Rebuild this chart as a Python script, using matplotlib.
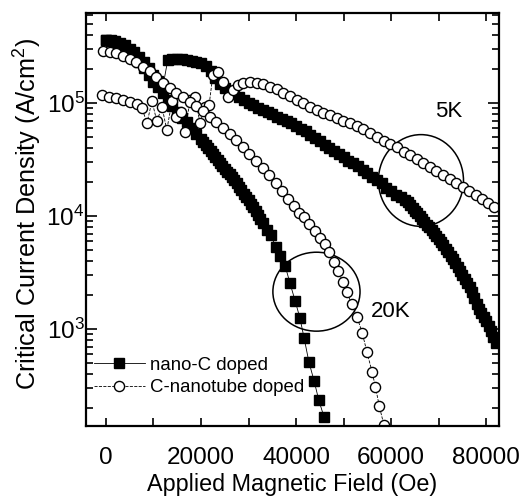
import matplotlib
matplotlib.use("Agg")
import matplotlib.pyplot as plt
from matplotlib.patches import Ellipse
from matplotlib.ticker import MultipleLocator, LogLocator, NullFormatter

plt.rcParams["font.family"] = ["Liberation Sans", "DejaVu Sans"]
plt.rcParams["mathtext.fontset"] = "custom"
plt.rcParams["mathtext.rm"] = "Liberation Sans"
plt.rcParams["mathtext.it"] = "Liberation Sans:italic"

# nano-C doped, 5 K (filled squares)
field_nanoC_5K = list(range(0, 63000, 1000)) + [
    63000, 63500, 64000, 64500, 65000, 65500, 66000, 66500, 67000, 67500, 68000, 68500,
    69000, 69500, 70000, 70500, 71000, 71500, 72000, 72500, 73000, 73500, 74000, 74500,
    75000, 75500, 76000, 76500, 77000, 77500, 78000, 78500, 79000, 79500, 80000, 80500,
    81000, 81500, 82000]
jc_nanoC_5K = [3.63e5, 3.63e5, 3.55e5, 3.39e5, 3.24e5, 3.02e5, 2.82e5, 2.57e5, 2.29e5, 2.04e5,
               1.78e5, 1.58e5, 1.41e5, 2.40e5, 2.45e5, 2.45e5, 2.45e5, 2.40e5, 2.34e5, 2.29e5,
               2.24e5, 2.14e5, 1.91e5, 1.66e5, 1.48e5, 1.35e5, 1.26e5, 1.20e5, 1.12e5, 1.07e5,
               1.00e5, 9.55e4, 9.12e4, 8.71e4, 8.32e4, 7.94e4, 7.59e4, 7.24e4, 6.92e4, 6.61e4,
               6.31e4, 5.89e4, 5.62e4, 5.25e4, 4.90e4, 4.57e4, 4.27e4, 3.98e4, 3.80e4, 3.55e4,
               3.31e4, 3.09e4, 2.95e4, 2.75e4, 2.57e4, 2.40e4, 2.24e4, 2.09e4, 1.95e4, 1.78e4,
               1.66e4, 1.55e4, 1.48e4,
               1.38e4, 1.32e4, 1.26e4, 1.19e4, 1.12e4, 1.06e4, 1.00e4, 9.44e3, 8.91e3, 8.41e3,
               7.94e3, 7.50e3, 7.08e3, 6.68e3, 6.31e3, 5.89e3, 5.50e3, 5.13e3, 4.79e3, 4.47e3,
               4.17e3, 3.85e3, 3.55e3, 3.27e3, 3.02e3, 2.79e3, 2.57e3, 2.35e3, 2.14e3, 1.90e3,
               1.66e3, 1.51e3, 1.38e3, 1.27e3, 1.17e3, 1.06e3, 955, 850, 759]

# nano-C doped, 20 K (filled squares)
field_nanoC_20K = [0, 1000, 2000, 3000, 4000, 5000, 6000, 7000, 8000, 9000, 10000, 11000,
                   12000, 13000, 14000, 15000, 16000, 17000, 18000, 19000, 20000, 20500,
                   21000, 21500, 22000, 22500, 23000, 23500, 24000, 24500, 25000, 25500,
                   26000, 26500, 27000, 27500, 28000, 28500, 29000, 29500, 30000, 30500,
                   31000, 31500, 32000, 32500, 33000, 33900, 34700, 35700, 36700, 37700,
                   38700, 39800, 40800, 41700, 42700, 43800, 44800, 45900]
jc_nanoC_20K = [3.61e5, 3.55e5, 3.39e5, 3.24e5, 3.02e5, 2.82e5, 2.57e5, 2.29e5, 2.04e5, 1.78e5,
                1.55e5, 1.38e5, 1.23e5, 1.07e5, 9.33e4, 8.32e4, 7.41e4, 6.76e4, 6.03e4, 5.37e4,
                4.79e4, 4.52e4, 4.27e4, 4.03e4, 3.80e4, 3.55e4, 3.31e4, 3.12e4, 2.95e4, 2.78e4,
                2.63e4, 2.48e4, 2.34e4, 2.21e4, 2.09e4, 1.95e4, 1.82e4, 1.70e4, 1.58e4, 1.48e4,
                1.38e4, 1.29e4, 1.20e4, 1.11e4, 1.02e4, 9.40e3, 8.71e3, 7.60e3, 6.76e3, 5.37e3,
                4.47e3, 3.63e3, 2.57e3, 1.78e3, 1.26e3, 832, 513, 347, 234, 166]

# C-nanotube doped, 5 K (open circles)
field_cnt_5K = [-840, 630, 2100, 3580, 5050, 6530, 7580, 8630, 9680, 10700, 11800, 12800,
                13900, 14700, 15800, 16600, 17700, 18700, 19800, 20800, 21700, 22500, 23600,
                24600, 25700, 26700, 27800, 28800, 30300, 31800, 33000, 34500, 36000, 37300,
                38700, 40200, 41500, 42900, 44400, 45700, 47200, 48600, 49900, 51400, 52800,
                54100, 55600, 57000, 58500, 59800, 61300, 62700, 64000, 65500, 66700, 68200,
                69500, 70900, 72400, 73700, 75200, 76400, 77900, 79100, 80400, 81700]
jc_cnt_5K = [1.17e5, 1.13e5, 1.11e5, 1.06e5, 1.02e5, 9.80e4, 9.03e4, 6.65e4, 1.04e5, 6.93e4,
             9.22e4, 5.77e4, 1.04e5, 7.52e4, 8.32e4, 5.53e4, 1.06e5, 1.13e5, 6.65e4, 9.22e4,
             9.60e4, 1.77e5, 1.88e5, 1.53e5, 1.13e5, 1.30e5, 1.44e5, 1.50e5, 1.53e5, 1.50e5,
             1.47e5, 1.39e5, 1.33e5, 1.22e5, 1.15e5, 1.06e5, 1.00e5, 9.22e4, 8.67e4, 8.16e4,
             7.84e4, 7.37e4, 6.93e4, 6.65e4, 6.25e4, 5.89e4, 5.43e4, 5.00e4, 4.61e4, 4.34e4,
             4.08e4, 3.68e4, 3.47e4, 3.19e4, 2.94e4, 2.72e4, 2.50e4, 2.31e4, 2.12e4, 1.96e4,
             1.81e4, 1.66e4, 1.53e4, 1.41e4, 1.30e4, 1.20e4]

# C-nanotube doped, 20 K (open circles)
field_cnt_20K = [-600, 800, 2200, 3600, 5000, 6400, 7800, 9200, 10600, 12000, 13400, 14800,
                 16200, 17600, 19000, 20400, 21800, 23200, 24600, 26000, 27400, 28800, 30200,
                 31600, 33000, 34400, 35800, 37100, 38300, 39500, 40600, 41700, 42800, 43900,
                 45000, 46000, 47000, 48000, 48900, 49800, 50700, 51700, 52800, 53900, 54900,
                 56000, 56700, 57500, 58500]
jc_cnt_20K = [2.88e5, 2.85e5, 2.75e5, 2.63e5, 2.45e5, 2.29e5, 2.09e5, 1.91e5, 1.70e5, 1.51e5,
              1.35e5, 1.23e5, 1.12e5, 1.02e5, 9.33e4, 8.51e4, 7.59e4, 6.76e4, 6.03e4, 5.37e4,
              4.68e4, 4.07e4, 3.55e4, 3.09e4, 2.69e4, 2.29e4, 1.95e4, 1.66e4, 1.41e4, 1.23e4,
              1.07e4, 9.77e3, 8.51e3, 7.41e3, 6.46e3, 5.62e3, 4.79e3, 3.89e3, 3.24e3, 2.63e3,
              2.14e3, 1.66e3, 1.29e3, 933, 631, 417, 309, 209, 141]

fig = plt.figure(figsize=(5.25, 4.96), dpi=100)
ax = fig.add_axes([0.1638, 0.1411, 0.7867, 0.8333])

sq = dict(color="black", marker="s", markersize=7.8, lw=0.6, ls="-")
ci = dict(color="black", marker="o", markersize=7.3, lw=0.6, ls="--",
          markerfacecolor="white", markeredgecolor="black", markeredgewidth=1.0)

ax.plot(field_nanoC_5K, jc_nanoC_5K, **sq)
ax.plot(field_nanoC_20K, jc_nanoC_20K, label="nano-C doped", **sq)
ax.plot(field_cnt_5K, jc_cnt_5K, **ci)
ax.plot(field_cnt_20K, jc_cnt_20K, label="C-nanotube doped", **ci)

ax.set_yscale("log")
ax.set_xlim(-4200, 82700)
ax.set_ylim(139, 6.3e5)

ax.xaxis.set_major_locator(MultipleLocator(20000))
ax.xaxis.set_minor_locator(MultipleLocator(10000))
ax.yaxis.set_major_locator(LogLocator(base=10))
ax.yaxis.set_minor_locator(LogLocator(base=10, subs=range(2, 10)))
ax.yaxis.set_minor_formatter(NullFormatter())

ax.tick_params(axis="both", which="both", direction="in", top=True, right=True, width=1.2)
ax.tick_params(axis="x", which="both", length=6, labelsize=17.5, pad=15)
ax.tick_params(axis="y", which="major", length=8, labelsize=17.5, pad=1)
ax.tick_params(axis="y", which="minor", length=5)
for s in ax.spines.values():
    s.set_linewidth(1.6)

ax.set_xlabel("Applied Magnetic Field (Oe)", fontsize=16.8, labelpad=3)
ax.set_ylabel("Critical Current Density (A/cm$^2$)", fontsize=18.2)
ax.yaxis.set_label_coords(-0.101, 0.5125)

# ellipses marking the two temperatures
ax.add_patch(Ellipse((0.811, 0.594), 0.206, 0.222, transform=ax.transAxes,
                     fill=False, lw=1.1, color="black"))
ax.add_patch(Ellipse((0.558, 0.325), 0.211, 0.191, transform=ax.transAxes,
                     fill=False, lw=1.1, color="black"))
ax.text(0.879, 0.761, "5K", transform=ax.transAxes, ha="center", va="center", fontsize=16)
ax.text(0.738, 0.278, "20K", transform=ax.transAxes, ha="center", va="center", fontsize=16)

ax.legend(loc="lower left", bbox_to_anchor=(0.02, 0.072), frameon=False, fontsize=13.4,
          handlelength=2.7, handletextpad=0.3, labelspacing=0.3, borderpad=0, borderaxespad=0)

fig.savefig("out.png", dpi=100)
